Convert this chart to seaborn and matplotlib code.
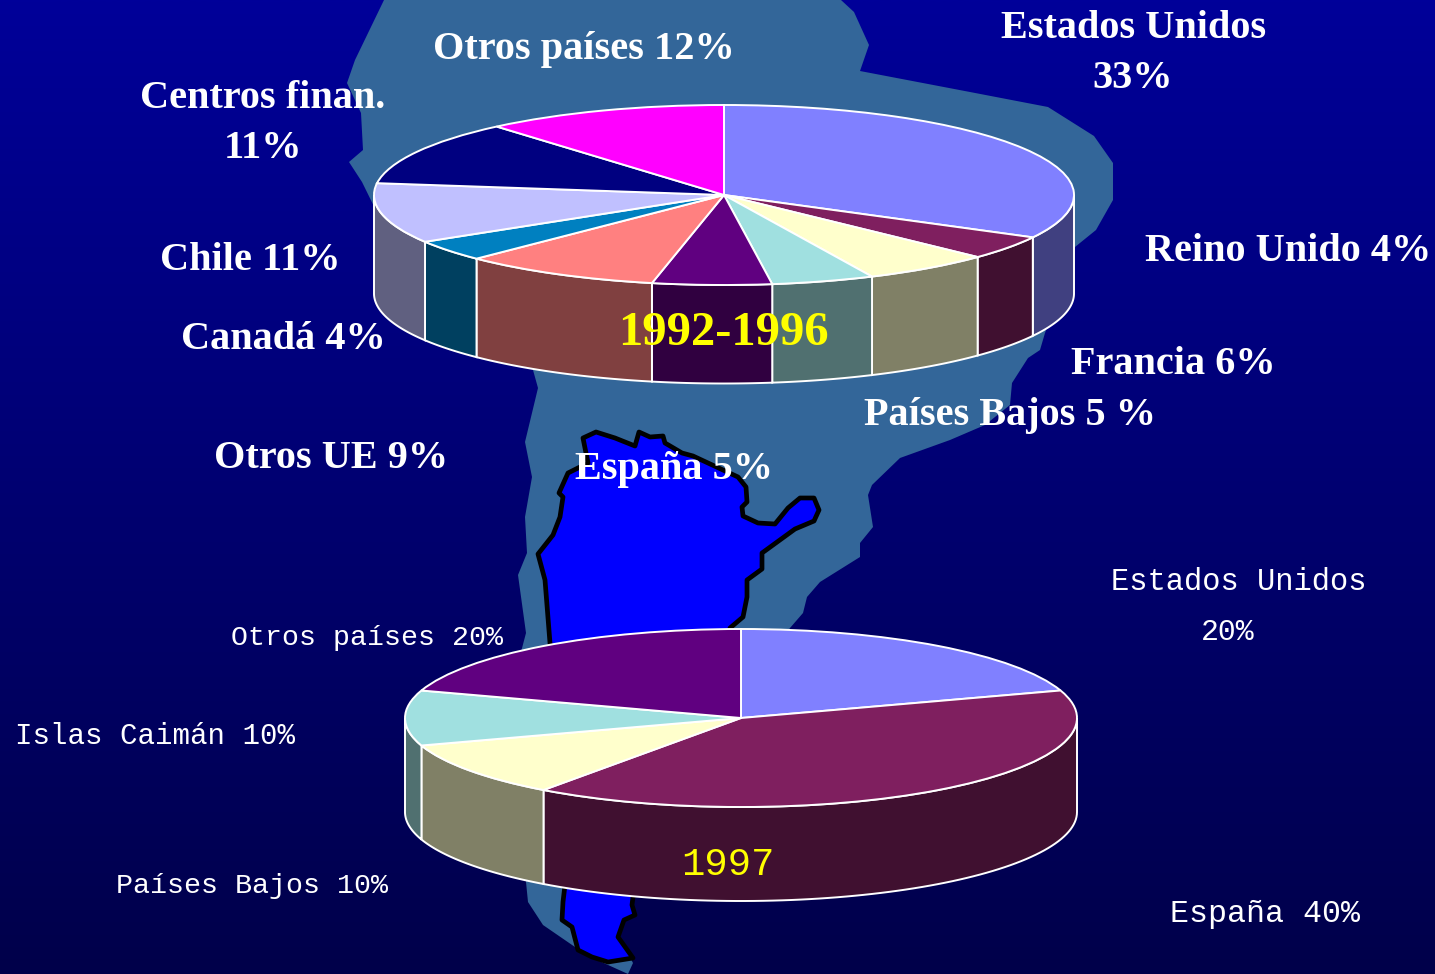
#!/usr/bin/env python
# -*- coding: utf-8 -*-

import numpy as np
import matplotlib
matplotlib.use('Agg')
import matplotlib.pyplot as plt
from matplotlib.patches import Polygon
import seaborn as sns

## ===================================================================== ##

# slice sizes (they differ a little from the printed labels)
shares_9296 = [32.8, 4.3, 5.95, 4.75, 5.5, 9.2, 3.8, 10.8, 11.65, 11.25]
colors_9296 = ['#8080FF', '#7F1F5F', '#FFFFCC', '#A0E0E0', '#600080',
               '#FF8080', '#0080C0', '#C0C0FF', '#000080', '#FF00FF']
labels_9296 = ['Estados Unidos', '33%', 'Reino Unido 4%', 'Francia 6%', 'Países Bajos 5 %',
               'España 5%', 'Otros UE 9%', 'Canadá 4%', 'Chile 11%',
               'Centros finan.', '11%', 'Otros países 12%']

shares_97 = [20, 40, 10, 10, 20]
colors_97 = ['#8080FF', '#7F1F5F', '#FFFFCC', '#A0E0E0', '#600080']
labels_97 = ['Estados Unidos', '20%', 'España 40%', 'Países Bajos 10%',
             'Islas Caimán 10%', 'Otros países 20%']

title_9296 = '1992-1996'
title_97 = '1997'

## ===================================================================== ##

W, H = 1435., 974.

# background map outlines, in pixels
south_america = [(384, 0), (355, 60), (347, 83), (361, 113), (363, 150), (349, 162), (362, 182),
                 (420, 300), (533, 370), (538, 388), (525, 442), (532, 477), (525, 517), (527, 553),
                 (518, 575), (526, 633), (521, 652), (526, 882), (528, 902), (543, 925), (575, 947),
                 (597, 960), (628, 974), (633, 963), (610, 920), (620, 870), (790, 628), (803, 613),
                 (807, 597), (820, 582), (860, 557), (860, 543), (873, 527), (868, 495), (872, 485),
                 (900, 458), (950, 440), (985, 425), (1010, 405), (1012, 383), (1028, 358),
                 (1040, 350), (1045, 333), (1075, 247), (1096, 230), (1113, 200), (1113, 163),
                 (1094, 136), (1048, 107), (970, 92), (860, 71), (869, 45), (854, 12), (841, 0)]
argentina = [(550, 643), (545, 580), (538, 554), (553, 535), (560, 517), (563, 497), (559, 493),
             (568, 473), (588, 463), (583, 438), (596, 432), (615, 438), (635, 446), (639, 432),
             (650, 437), (663, 436), (665, 443), (682, 453), (693, 456), (738, 477), (746, 487),
             (747, 502), (742, 507), (743, 516), (758, 523), (775, 524), (788, 508), (800, 498),
             (814, 498), (819, 510), (814, 521), (795, 529), (762, 553), (762, 569), (747, 580),
             (747, 597), (743, 617), (730, 628), (720, 700), (633, 885), (633, 897), (632, 905),
             (635, 915), (624, 920), (618, 937), (633, 958), (608, 962), (592, 957), (578, 950),
             (572, 927), (562, 920), (563, 902), (565, 885)]


def draw_pie(shares, colors, cx, cy, rx, ry, depth):
    pad = 0.02
    d = depth / ry
    ax = fig.add_axes([(cx - rx * (1. + pad)) / W,
                       1. - (cy + ry * (1. + d + pad)) / H,
                       2. * rx * (1. + pad) / W,
                       ry * (2. + d + 2. * pad) / H])
    palette = sns.color_palette(colors)

    # side wall, only the part of each wedge facing the viewer
    edges = 90. - np.cumsum([0.] + list(shares)) * 360. / sum(shares)
    for i, col in enumerate(palette):
        a1, a2 = edges[i + 1] % 360., edges[i] % 360.
        if a2 <= a1:
            a2 += 360.
        lo, hi = max(a1, 180.), min(a2, 360.)
        if hi <= lo:
            continue
        t = np.radians(np.linspace(lo, hi, 80))
        x, y = np.cos(t), np.sin(t)
        ax.fill(np.r_[x, x[::-1]], np.r_[y, y[::-1] - d], facecolor=np.array(col) * 0.5,
                edgecolor='white', lw=1.4)

    ax.pie(shares, colors=palette, startangle=90, counterclock=False, radius=1.,
           wedgeprops={'edgecolor': 'white', 'linewidth': 1.4})
    ax.set_aspect('auto')
    ax.set_xlim(-1. - pad, 1. + pad)
    ax.set_ylim(-1. - d - pad, 1. + pad)
    ax.patch.set_visible(False)
    return ax


def put(label, x, y, **kw):
    fig.text(x / W, 1. - y / H, label, ha='center', va='center', **kw)


## ===================================================================== ##

sns.set_theme(style='white')
plt.rcParams['font.family'] = ['Liberation Serif', 'DejaVu Sans']

fig = plt.figure(figsize=(14.35, 9.74), dpi=100)

bg = fig.add_axes([0, 0, 1, 1])
gradient = np.zeros((256, 1, 3))
gradient[:, 0, 2] = np.linspace(0.60, 0.29, 256)
bg.imshow(gradient, extent=[0, W, H, 0], aspect='auto', interpolation='bilinear')
bg.add_patch(Polygon(south_america, closed=True, facecolor='#336699', edgecolor='none'))
bg.add_patch(Polygon(argentina, closed=True, facecolor='#0000FF', edgecolor='black', lw=3.4, joinstyle='round'))
bg.set_xlim(0, W)
bg.set_ylim(H, 0)
bg.axis('off')

draw_pie(shares_9296, colors_9296, 724., 195., 350., 90., 98.5)
draw_pie(shares_97, colors_97, 741., 718., 336., 89., 94.)

pos_9296 = [(1134, 29), (1133, 79), (1288, 251), (1173, 365), (1010, 416), (674, 469),
            (331, 459), (283, 339), (250, 260), (263, 98), (263, 148), (584, 50)]
for label, (x, y) in zip(labels_9296, pos_9296):
    put(label, x, y, color='white', fontsize=29, fontweight='bold')
put(title_9296, 723, 333, color='yellow', fontsize=35, fontweight='bold')

pos_97 = [(1239, 582), (1228, 632), (1265, 914), (252, 886), (155, 736), (367, 638)]
sizes_97 = [22., 21.5, 22.8, 20.4, 21., 20.3]
for label, (x, y), size in zip(labels_97, pos_97, sizes_97):
    put(label, x, y, color='white', fontsize=size, family=['Liberation Mono', 'DejaVu Sans'])
put(title_97, 728, 865, color='yellow', fontsize=28, family=['Liberation Mono', 'DejaVu Sans'])

fig.savefig('out.png', dpi=100)
